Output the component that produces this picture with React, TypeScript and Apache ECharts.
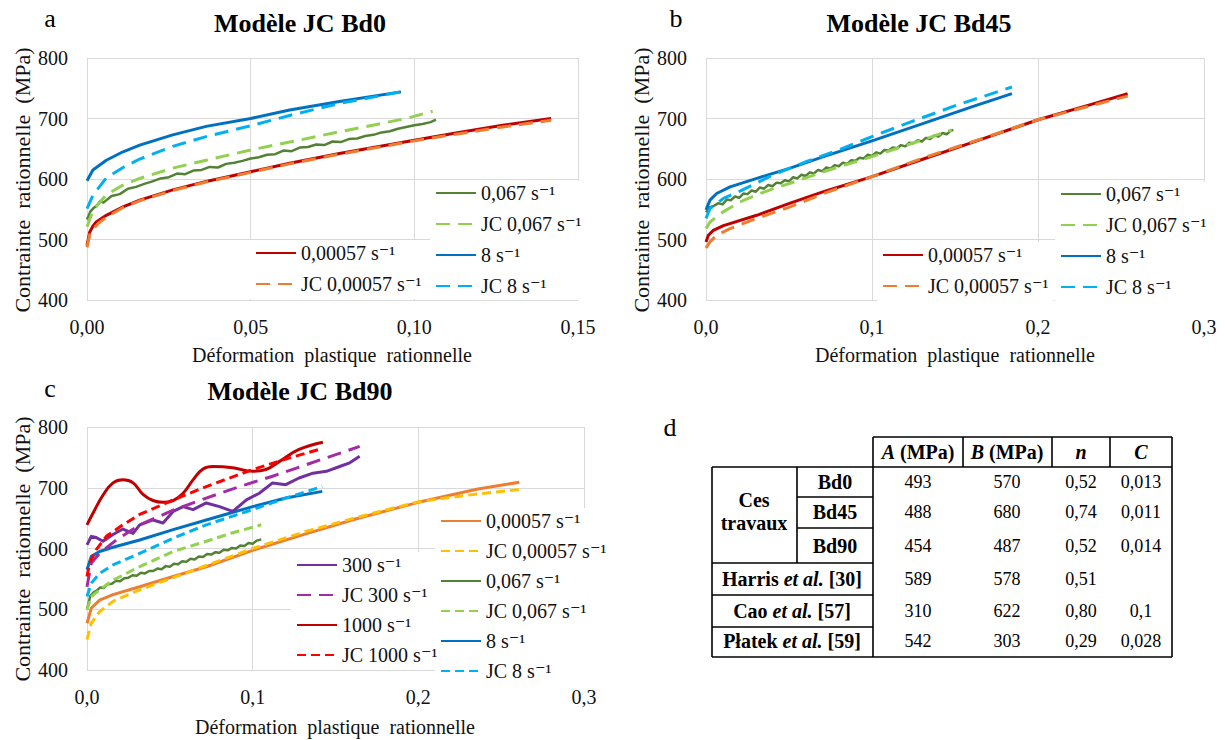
import React, { useEffect, useRef } from 'react';
import * as echarts from 'echarts';

const FONT = "'Liberation Serif', 'Times New Roman', 'DejaVu Serif', serif";

const Y_TICKS = ['400', '500', '600', '700', '800'];
const X_TICKS_A = ['0,00', '0,05', '0,10', '0,15'];
const X_TICKS_BC = ['0,0', '0,1', '0,2', '0,3'];

const NAME_0057 = '0,00057 s⁻¹';
const NAME_JC_0057 = 'JC 0,00057 s⁻¹';
const NAME_067 = '0,067 s⁻¹';
const NAME_JC_067 = 'JC 0,067 s⁻¹';
const NAME_8 = '8 s⁻¹';
const NAME_JC_8 = 'JC 8 s⁻¹';
const NAME_300 = '300 s⁻¹';
const NAME_JC_300 = 'JC 300 s⁻¹';
const NAME_1000 = '1000 s⁻¹';
const NAME_JC_1000 = 'JC 1000 s⁻¹';

// ---- Panel a : Bd0 ----
const A_0057 = [[0, 490], [0.0008, 512], [0.0018, 522], [0.0028, 529], [0.0059, 540], [0.011, 554], [0.0161, 565], [0.0262, 582], [0.0364, 596], [0.05, 612], [0.0619, 626], [0.0771, 642], [0.1, 664], [0.1127, 676], [0.127, 689], [0.1418, 700]];
const A_JC_0057 = [[0, 487], [0.001, 512], [0.0035, 527], [0.006, 537], [0.011, 553], [0.0161, 564], [0.0262, 581], [0.0364, 595], [0.05, 611], [0.0619, 625], [0.0771, 641], [0.1, 663], [0.1127, 674], [0.127, 686], [0.1418, 697]];
const A_067 = [[0, 533], [0.001, 546], [0.002, 552], [0.003, 556], [0.004, 563], [0.005, 561], [0.0075, 572], [0.01, 575], [0.0125, 584], [0.015, 587], [0.0175, 592], [0.02, 596], [0.0225, 601], [0.025, 603], [0.0275, 609], [0.03, 608], [0.0325, 614], [0.035, 615], [0.0375, 620], [0.04, 619], [0.0425, 625], [0.045, 627], [0.0475, 630], [0.05, 634], [0.0525, 636], [0.055, 640], [0.0575, 641], [0.06, 647], [0.0625, 646], [0.065, 652], [0.0675, 653], [0.07, 657], [0.0725, 656], [0.075, 662], [0.0775, 661], [0.08, 666], [0.0825, 667], [0.085, 671], [0.0875, 673], [0.09, 677], [0.0925, 679], [0.095, 683], [0.0975, 686], [0.1, 689], [0.1025, 691], [0.105, 694], [0.1066, 698]];
const A_JC_067 = [[0, 521], [0.0018, 548], [0.0059, 574], [0.011, 590], [0.0161, 601], [0.0262, 618], [0.0364, 631], [0.05, 648], [0.0619, 661], [0.0771, 678], [0.0873, 689], [0.0975, 700], [0.1056, 712]];
const A_8 = [[0, 597], [0.0018, 615], [0.0059, 631], [0.011, 645], [0.0161, 656], [0.0262, 673], [0.0364, 687], [0.05, 700], [0.0619, 714], [0.0771, 728], [0.0959, 744]];
const A_JC_8 = [[0, 551], [0.0018, 573], [0.0059, 602], [0.011, 619], [0.0161, 633], [0.0262, 654], [0.0364, 670], [0.05, 688], [0.0619, 705], [0.0771, 725], [0.0959, 744]];

// ---- Panel b : Bd45 ----
const B_0057 = [[0, 496], [0.0014, 507], [0.0044, 515], [0.0105, 523], [0.0306, 540], [0.0507, 560], [0.0708, 579], [0.1, 604], [0.131, 633], [0.161, 661], [0.2, 698], [0.2316, 723], [0.254, 741]];
const B_JC_0057 = [[0, 486], [0.0024, 496], [0.0064, 507], [0.0145, 518], [0.0306, 535], [0.0507, 554], [0.0708, 576], [0.1, 604], [0.131, 635], [0.161, 662], [0.2, 698], [0.2316, 721], [0.254, 737]];
const B_067 = [[0, 545], [0.002, 553], [0.005, 556], [0.0075, 560], [0.01, 558], [0.0125, 566], [0.015, 565], [0.0175, 571], [0.02, 569], [0.0225, 576], [0.025, 575], [0.0275, 581], [0.03, 579], [0.0325, 586], [0.035, 584], [0.0375, 590], [0.04, 588], [0.0425, 594], [0.045, 593], [0.0475, 598], [0.05, 596], [0.0525, 603], [0.055, 601], [0.0575, 607], [0.06, 605], [0.0625, 611], [0.065, 609], [0.0675, 615], [0.07, 613], [0.0725, 619], [0.075, 617], [0.0775, 623], [0.08, 621], [0.0825, 627], [0.085, 625], [0.0875, 631], [0.09, 630], [0.0925, 635], [0.095, 634], [0.0975, 640], [0.1, 638], [0.1025, 644], [0.105, 642], [0.1075, 648], [0.11, 647], [0.1125, 652], [0.115, 651], [0.1175, 656], [0.12, 654], [0.1225, 660], [0.125, 659], [0.1275, 664], [0.13, 662], [0.1325, 668], [0.135, 666], [0.1375, 672], [0.14, 670], [0.1425, 676], [0.145, 674], [0.1475, 680], [0.149, 681]];
const B_JC_067 = [[0, 518], [0.0024, 529], [0.0105, 546], [0.0205, 562], [0.0306, 574], [0.0406, 584], [0.0507, 593], [0.0708, 612], [0.1, 637], [0.121, 656], [0.148, 681]];
const B_8 = [[0, 549], [0.0024, 565], [0.0064, 576], [0.0145, 587], [0.0306, 601], [0.0507, 618], [0.0708, 637], [0.1, 663], [0.131, 692], [0.161, 720], [0.1843, 741]];
const B_JC_8 = [[0, 535], [0.0024, 551], [0.0105, 568], [0.0205, 580], [0.0406, 607], [0.0607, 629], [0.0808, 649], [0.1, 670], [0.121, 692], [0.151, 722], [0.1843, 752]];

// ---- Panel c : Bd90 ----
const C_0057 = [[0, 477], [0.0026, 502], [0.0076, 515], [0.0157, 524], [0.0318, 537], [0.052, 554], [0.072, 570], [0.1, 597], [0.132, 624], [0.1626, 649], [0.2, 676], [0.236, 698], [0.261, 709]];
const C_JC_0057 = [[0, 450], [0.0026, 477], [0.0076, 496], [0.0157, 513], [0.0318, 532], [0.052, 552], [0.072, 572], [0.1, 600], [0.132, 628], [0.1626, 651], [0.2, 677], [0.236, 690], [0.261, 697]];
const C_067 = [[0, 500], [0.002, 522], [0.004, 528], [0.006, 531], [0.008, 536], [0.01, 535], [0.0125, 541], [0.015, 542], [0.0175, 547], [0.02, 546], [0.0225, 551], [0.025, 552], [0.0275, 556], [0.03, 555], [0.0325, 560], [0.035, 559], [0.0375, 563], [0.04, 563], [0.0425, 567], [0.045, 566], [0.0475, 571], [0.05, 570], [0.0525, 575], [0.055, 574], [0.0575, 579], [0.06, 578], [0.0625, 583], [0.065, 582], [0.0675, 587], [0.07, 586], [0.0725, 591], [0.075, 590], [0.0775, 594], [0.08, 593], [0.0825, 598], [0.085, 597], [0.0875, 601], [0.09, 600], [0.0925, 605], [0.095, 604], [0.0975, 609], [0.1, 608], [0.1025, 613], [0.1052, 615]];
const C_JC_067 = [[0, 499], [0.0026, 521], [0.0076, 532], [0.0157, 548], [0.0318, 570], [0.052, 595], [0.072, 612], [0.088, 626], [0.1052, 639]];
const C_8 = [[0, 565], [0.0026, 587], [0.0076, 595], [0.0157, 602], [0.0318, 614], [0.052, 631], [0.072, 647], [0.1, 669], [0.12, 683], [0.142, 694]];
const C_JC_8 = [[0, 521], [0.0026, 543], [0.0076, 559], [0.0157, 573], [0.0318, 592], [0.052, 617], [0.072, 639], [0.1, 664], [0.12, 683], [0.142, 702]];
const C_300 = [[0, 606], [0.0026, 620], [0.0056, 618], [0.0097, 612], [0.0157, 623], [0.0217, 632], [0.0278, 625], [0.0318, 639], [0.0398, 647], [0.0459, 642], [0.052, 661], [0.058, 669], [0.064, 664], [0.072, 675], [0.08, 669], [0.088, 661], [0.0962, 680], [0.104, 691], [0.112, 708], [0.12, 705], [0.128, 716], [0.1364, 724], [0.1445, 727], [0.1525, 735], [0.1586, 741], [0.1646, 752]];
const C_JC_300 = [[0, 537], [0.0026, 576], [0.0076, 592], [0.0117, 601], [0.0177, 614], [0.0318, 639], [0.052, 663], [0.072, 683], [0.0922, 702], [0.112, 719], [0.1324, 738], [0.1646, 768]];
const C_1000 = [[0, 639], [0.0036, 658], [0.0097, 688], [0.0157, 708], [0.0217, 713], [0.0278, 708], [0.0338, 689], [0.0398, 679], [0.0459, 676], [0.052, 679], [0.058, 691], [0.064, 713], [0.07, 731], [0.076, 735], [0.088, 733], [0.1, 727], [0.108, 730], [0.116, 743], [0.128, 763], [0.1424, 775]];
const C_JC_1000 = [[0, 554], [0.0016, 576], [0.0056, 598], [0.0117, 620], [0.0217, 639], [0.0318, 656], [0.052, 680], [0.072, 702], [0.1, 730], [0.122, 749], [0.1414, 764]];

// ---- Panel d : table ----
const TABLE_HEAD = ['A', 'B', 'n', 'C'];
const TABLE_LABELS = ['Bd0', 'Bd45', 'Bd90', 'Harris', 'Cao', 'Płatek'];
const TABLE_REFS = ['', '', '', '[30]', '[57]', '[59]'];
const COL_A = ['493', '488', '454', '589', '310', '542'];
const COL_B = ['570', '680', '487', '578', '622', '303'];
const COL_N = ['0,52', '0,74', '0,52', '0,51', '0,80', '0,29'];
const COL_C = ['0,013', '0,011', '0,014', '', '0,1', '0,028'];

const C_RED = '#C00000';
const C_ORANGE = '#ED7D31';
const C_DGREEN = '#548235';
const C_LGREEN = '#92D050';
const C_BLUE = '#0070C0';
const C_LBLUE = '#00B0F0';
const C_PURPLE = '#7030A0';
const C_MAGENTA = '#A52AA5';
const C_BRED = '#FF0000';
const C_YELLOW = '#FFC000';

function mk(panel: string, idx: number, name: string, data: number[][], color: string, dashed: boolean, opts: any = {}) {
  return {
    type: 'line',
    name: panel + '|' + name,
    xAxisIndex: idx,
    yAxisIndex: idx,
    data,
    symbol: 'none',
    showSymbol: false,
    smooth: opts.smooth ?? false,
    lineStyle: {
      color,
      width: opts.width ?? 3,
      type: dashed ? (opts.dash ?? [14, 8]) : 'solid',
      cap: 'butt',
      join: 'round',
    },
    itemStyle: { color },
    z: dashed ? 3 : 2,
  };
}

const TXT = '#111';

function xAxis(idx: number, max: number, interval: number, ticks: string[]) {
  return {
    type: 'value',
    gridIndex: idx,
    min: 0,
    max,
    interval,
    axisLine: { show: false },
    axisTick: { show: false },
    splitLine: { show: true, lineStyle: { color: '#D9D9D9', width: 1 } },
    axisLabel: {
      margin: 17,
      fontFamily: FONT,
      fontSize: 20,
      color: TXT,
      formatter: (v: number) => ticks[Math.round(v / interval)] ?? '',
    },
  };
}

function yAxis(idx: number) {
  return {
    type: 'value',
    gridIndex: idx,
    min: 400,
    max: 800,
    interval: 100,
    axisLine: { show: false },
    axisTick: { show: false },
    splitLine: { show: true, lineStyle: { color: '#D9D9D9', width: 1 } },
    axisLabel: {
      margin: 19,
      fontFamily: FONT,
      fontSize: 20,
      color: TXT,
      formatter: (v: number) => Y_TICKS[Math.round((v - 400) / 100)] ?? '',
    },
  };
}

function legend(panel: string, names: string[], left: number, top: number, gap: number, padding: number[]) {
  return {
    orient: 'vertical',
    left,
    top,
    data: names.map((n) => panel + '|' + n),
    formatter: (n: string) => n.split('|')[1],
    itemWidth: 40,
    itemHeight: 14,
    itemGap: gap,
    padding,
    backgroundColor: '#ffffff',
    selectedMode: false,
    itemStyle: { opacity: 0, borderWidth: 0 },
    textStyle: { fontFamily: FONT, fontSize: 20, color: TXT, lineHeight: 20 },
  };
}

function text(x: number, y: number, str: string, size: number, bold = false, extra: any = {}) {
  return {
    type: 'text',
    x,
    y,
    z: 10,
    style: {
      text: str,
      fontFamily: FONT,
      fontSize: size,
      fontWeight: bold ? 'bold' : 'normal',
      fill: '#000',
      textAlign: 'center',
      textVerticalAlign: 'middle',
      ...extra,
    },
  };
}

function hline(x1: number, x2: number, y: number) {
  return { type: 'line', z: 10, shape: { x1, y1: y, x2, y2: y }, style: { stroke: '#000', lineWidth: 1.6 } };
}
function vline(x: number, y1: number, y2: number) {
  return { type: 'line', z: 10, shape: { x1: x, y1, x2: x, y2 }, style: { stroke: '#000', lineWidth: 1.6 } };
}

function buildTable() {
  const els: any[] = [];
  const L = 712, D = 797, M = 873;
  const cols = [873, 963, 1052, 1110, 1172];
  const rows = [437, 467, 497, 528, 563, 595, 627, 657];
  els.push(hline(M, cols[4], rows[0]));
  for (const c of cols) els.push(vline(c, rows[0], rows[1]));
  els.push(hline(L, cols[4], rows[1]));
  els.push(vline(L, rows[1], rows[7]));
  els.push(vline(M, rows[1], rows[7]));
  els.push(vline(cols[4], rows[1], rows[7]));
  els.push(hline(L, cols[4], rows[7]));
  els.push(vline(D, rows[1], rows[4]));
  els.push(hline(D, M, rows[2]));
  els.push(hline(D, M, rows[3]));
  els.push(hline(L, M, rows[4]));
  els.push(hline(L, M, rows[5]));
  els.push(hline(L, M, rows[6]));
  const rich = {
    b: { fontFamily: FONT, fontSize: 20, fontWeight: 'bold', fill: '#000' },
    bi: { fontFamily: FONT, fontSize: 20, fontWeight: 'bold', fontStyle: 'italic', fill: '#000' },
  };
  const headCx = [918, 1007, 1081, 1141];
  TABLE_HEAD.forEach((h, i) => {
    const t = i < 2 ? `{bi|${h}}{b| (MPa)}` : `{bi|${h}}`;
    els.push(text(headCx[i], 452, t, 20, true, { rich }));
  });
  const rowCy = [482, 512, 546, 579, 611, 641];
  els.push(text(754, 500, 'Ces', 20, true));
  els.push(text(754, 523, 'travaux', 20, true));
  TABLE_LABELS.forEach((lab, i) => {
    if (i < 3) els.push(text(835, rowCy[i], lab, 20, true));
    else els.push(text(792, rowCy[i], `{b|${lab} }{bi|et al.}{b| ${TABLE_REFS[i]}}`, 20, true, { rich }));
  });
  [COL_A, COL_B, COL_N, COL_C].forEach((col, ci) => {
    col.forEach((v, ri) => {
      if (v) els.push(text(headCx[ci], rowCy[ri], v, 18, false));
    });
  });
  return els;
}

export default function App() {
  const ref = useRef<HTMLDivElement>(null);
  useEffect(() => {
    if (!ref.current) return;
    const chart = echarts.init(ref.current, null, { renderer: 'svg' });
    const dashC = [9, 5];
    const series = [
      mk('a', 0, NAME_0057, A_0057, C_RED, false),
      mk('a', 0, NAME_JC_0057, A_JC_0057, C_ORANGE, true),
      mk('a', 0, NAME_067, A_067, C_DGREEN, false, { width: 2.5 }),
      mk('a', 0, NAME_JC_067, A_JC_067, C_LGREEN, true),
      mk('a', 0, NAME_8, A_8, C_BLUE, false),
      mk('a', 0, NAME_JC_8, A_JC_8, C_LBLUE, true),

      mk('b', 1, NAME_0057, B_0057, C_RED, false),
      mk('b', 1, NAME_JC_0057, B_JC_0057, C_ORANGE, true),
      mk('b', 1, NAME_067, B_067, C_DGREEN, false, { width: 2.5 }),
      mk('b', 1, NAME_JC_067, B_JC_067, C_LGREEN, true),
      mk('b', 1, NAME_8, B_8, C_BLUE, false),
      mk('b', 1, NAME_JC_8, B_JC_8, C_LBLUE, true),

      mk('c', 2, NAME_0057, C_0057, C_ORANGE, false),
      mk('c', 2, NAME_JC_0057, C_JC_0057, C_YELLOW, true, { dash: dashC }),
      mk('c', 2, NAME_067, C_067, C_DGREEN, false, { width: 2.5 }),
      mk('c', 2, NAME_JC_067, C_JC_067, C_LGREEN, true, { dash: dashC }),
      mk('c', 2, NAME_8, C_8, C_BLUE, false),
      mk('c', 2, NAME_JC_8, C_JC_8, C_LBLUE, true, { dash: dashC }),
      mk('c', 2, NAME_300, C_300, C_PURPLE, false),
      mk('c', 2, NAME_JC_300, C_JC_300, C_MAGENTA, true, { dash: [14, 8] }),
      mk('c', 2, NAME_1000, C_1000, C_RED, false, { smooth: 0.45 }),
      mk('c', 2, NAME_JC_1000, C_JC_1000, C_BRED, true, { dash: dashC }),
    ];

    const option: any = {
      animation: false,
      backgroundColor: '#ffffff',
      grid: [
        { left: 87, top: 58, width: 491, height: 242 },
        { left: 706, top: 58, width: 498, height: 242 },
        { left: 87, top: 427, width: 497, height: 243 },
      ],
      xAxis: [
        xAxis(0, 0.15, 0.05, X_TICKS_A),
        xAxis(1, 0.3, 0.1, X_TICKS_BC),
        xAxis(2, 0.3, 0.1, X_TICKS_BC),
      ],
      yAxis: [yAxis(0), yAxis(1), yAxis(2)],
      legend: [
        legend('a', [NAME_0057, NAME_JC_0057], 250, 240, 11, [3, 5, 5, 5]),
        legend('a', [NAME_067, NAME_JC_067, NAME_8, NAME_JC_8], 430, 181, 11, [2, 2, 4, 5]),
        legend('b', [NAME_0057, NAME_JC_0057], 877, 242, 11, [3, 5, 5, 5]),
        legend('b', [NAME_067, NAME_JC_067, NAME_8, NAME_JC_8], 1055, 182, 11, [2, 2, 4, 5]),
        legend('c', [NAME_300, NAME_JC_300, NAME_1000, NAME_JC_1000], 291, 552, 10, [3, 5, 5, 5]),
        legend('c', [NAME_0057, NAME_JC_0057, NAME_067, NAME_JC_067, NAME_8, NAME_JC_8], 435, 508, 10, [3, 2, 3, 5]),
      ],
      series,
      graphic: [
        text(50, 18, 'a', 26),
        text(300, 23, 'Modèle JC Bd0', 26, true),
        text(676, 18, 'b', 26),
        text(919, 23, 'Modèle JC Bd45', 26, true),
        text(50, 388, 'c', 26),
        text(300, 391, 'Modèle JC Bd90', 26, true),
        text(670, 427, 'd', 26),
        text(332, 355, 'Déformation  plastique  rationnelle', 20, false, { fill: TXT }),
        text(955, 355, 'Déformation  plastique  rationnelle', 20, false, { fill: TXT }),
        text(335, 727, 'Déformation  plastique  rationnelle', 20, false, { fill: TXT }),
        { ...text(22, 180, 'Contrainte  rationnelle  (MPa)', 22, false, { fill: TXT }), rotation: Math.PI / 2 },
        { ...text(641, 180, 'Contrainte  rationnelle  (MPa)', 22, false, { fill: TXT }), rotation: Math.PI / 2 },
        { ...text(22, 549, 'Contrainte  rationnelle  (MPa)', 22, false, { fill: TXT }), rotation: Math.PI / 2 },
        ...buildTable(),
      ],
    };
    chart.setOption(option);
    return () => chart.dispose();
  }, []);
  return (
    <div
      ref={ref}
      style={{ position: 'fixed', left: 0, top: 0, width: 1225, height: 740, background: '#fff' }}
    />
  );
}
